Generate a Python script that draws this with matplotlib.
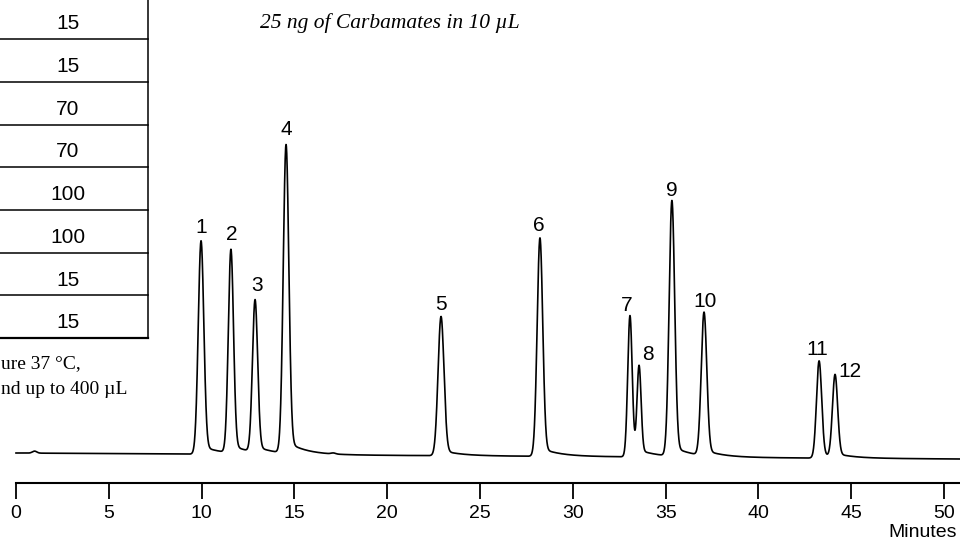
import numpy as np
import matplotlib.pyplot as plt

# ---- data ----
peak_ids = ['1', '2', '3', '4', '5', '6', '7', '8', '9', '10', '11', '12']
retention_min = [9.97, 11.58, 12.88, 14.55, 22.90, 28.23, 33.08, 33.57, 35.34, 37.07, 43.27, 44.13]
peak_height = [213, 203, 152, 308, 139, 218, 141, 88, 255, 143, 97, 82]
peak_sigma = [0.15, 0.14, 0.14, 0.15, 0.16, 0.15, 0.12, 0.11, 0.15, 0.15, 0.14, 0.14]
bump_min = [1.0, 17.1]
bump_height = [2.0, 1.0]
baseline_start, baseline_end = 0.0, -6.0
x_ticks = [0, 5, 10, 15, 20, 25, 30, 35, 40, 45, 50]

table_values = ['15', '15', '70', '70', '100', '100', '15', '15']
title = '25 ng of Carbamates in 10 µL'
note_lines = ['ure 37 °C,', 'nd up to 400 µL']

# label offsets (pixels) from peak apex
label_off = [(0, 8), (1, 9), (2, 9), (0, 10), (0, 6), (-1, 7),
             (-3, 5), (9, 5), (0, 5), (1, 5), (-2, 6), (15, -3)]

W, H = 960, 541
fig = plt.figure(figsize=(W / 100, H / 100), dpi=100)

# overlay in pixel coordinates for the table / notes
ov = fig.add_axes([0, 0, 1, 1])
ov.set_xlim(0, W)
ov.set_ylim(H, 0)
ov.axis('off')

row_h = 42.7
top = -3.5
for i, v in enumerate(table_values):
    y0 = top + i * row_h
    y1 = y0 + row_h
    ov.plot([0, 148], [y1, y1], color='black', lw=1.6 if i == len(table_values) - 1 else 1.1)
    ov.text(68, (y0 + y1) / 2 + 6, v, ha='center', va='center', fontsize=15,
            family=['Liberation Sans Narrow', 'Liberation Sans', 'DejaVu Sans'])
ov.plot([148, 148], [0, top + len(table_values) * row_h], color='black', lw=1.1)

ov.text(1, 364, note_lines[0], ha='left', va='center', fontsize=14, family='Liberation Serif')
ov.text(1, 390, note_lines[1], ha='left', va='center', fontsize=14, family='Liberation Serif')
ov.text(260, 23, title, ha='left', va='center', fontsize=15.5, style='italic', family='Liberation Serif')

# ---- chromatogram ----
px_per_min = 18.56
x0_px = 16
ax = fig.add_axes([0, (H - 483) / H, 1, 483 / H])
ax.patch.set_alpha(0)
xmin = -x0_px / px_per_min
xmax = (W - x0_px) / px_per_min
ax.set_xlim(xmin, xmax)
ax.set_ylim(-30, 453)

t = np.linspace(0, xmax, 8000)
sig = baseline_start + (baseline_end - baseline_start) * t / xmax
for t0, h, s in zip(retention_min, peak_height, peak_sigma):
    sig += h * np.exp(-0.5 * ((t - t0) / s) ** 2)
    # tailing after the apex
    step = 0.5 * (1 + np.tanh((t - t0 - 1.5 * s) / s))
    sig += 0.04 * h * np.exp(-np.clip(t - t0, 0, None) / 1.0) * step
for t0, h in zip(bump_min, bump_height):
    sig += h * np.exp(-0.5 * ((t - t0) / 0.12) ** 2)

ax.plot(t, sig, color='black', lw=1.2)

for i, (t0, lab) in enumerate(zip(retention_min, peak_ids)):
    apex = np.interp(t0, t, sig)
    ax.annotate(lab, (t0, apex), xytext=label_off[i], textcoords='offset pixels',
                ha='center', va='baseline', fontsize=15, family='Liberation Sans')

for sp in ['top', 'right', 'left']:
    ax.spines[sp].set_visible(False)
ax.spines['bottom'].set_bounds(0, xmax)
ax.spines['bottom'].set_linewidth(1.5)
ax.set_yticks([])
ax.set_xticks(x_ticks)
ax.set_xticklabels([str(v) for v in x_ticks], family='Liberation Sans', fontsize=14)
ax.tick_params(axis='x', direction='out', length=11.5, width=1.3, pad=4)

fig.text(957 / W, 4 / H, 'Minutes', ha='right', va='baseline', fontsize=14, family='Liberation Sans')

fig.savefig('out.png', dpi=100)
